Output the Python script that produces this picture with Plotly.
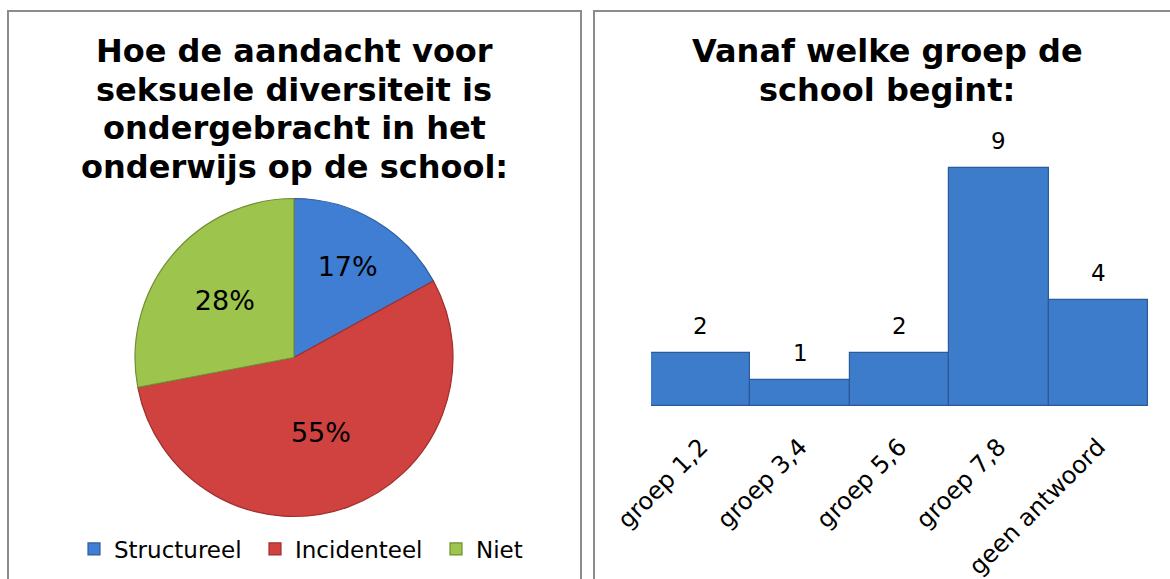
import plotly.graph_objects as go

W, H = 1170, 579

# ---- data ----
pie_labels = ["Structureel", "Incidenteel", "Niet"]
pie_values = [17, 55, 28]
pie_colors = ["#3F7ED2", "#CF423F", "#9DC44D"]
pie_edge = ["#2D5E9E", "#9E2F2C", "#6F8F33"]

bar_categories = ["groep 1,2", "groep 3,4", "groep 5,6", "groep 7,8", "geen antwoord"]
bar_values = [2, 1, 2, 9, 4]

left_title_lines = ["Hoe de aandacht voor", "seksuele diversiteit is",
                    "ondergebracht in het", "onderwijs op de school:"]
right_title_lines = ["Vanaf welke groep de", "school begint:"]

FONT = "DejaVu Sans"
TITLE_SIZE = 32

def px(x):
    return x / W

def py(y):
    return (H - y) / H

fig = go.Figure()

fig.add_trace(go.Pie(
    labels=pie_labels,
    values=pie_values,
    sort=False,
    direction="clockwise",
    rotation=0,
    marker=dict(colors=pie_colors, line=dict(color=pie_edge, width=1.2)),
    texttemplate="%{value}%",
    textposition="inside",
    insidetextorientation="horizontal",
    textfont=dict(family=FONT, size=27, color="black"),
    domain=dict(x=[px(135), px(453)], y=[py(517), py(198)]),
    showlegend=True,
    hoverinfo="label+value",
))

fig.add_trace(go.Bar(
    x=bar_categories,
    y=bar_values,
    marker=dict(color="#3D7BCB", line=dict(color="#2A5A98", width=1.2)),
    xaxis="x", yaxis="y",
    showlegend=False,
    hoverinfo="x+y",
))

annotations = []
LINE_STEP = 38.5
for i, line in enumerate(left_title_lines):
    top = 63 + i * LINE_STEP - (TITLE_SIZE + 1)
    annotations.append(dict(text=line, x=px(294), y=py(top), xref="paper", yref="paper",
                            xanchor="center", yanchor="top", showarrow=False,
                            font=dict(family=FONT, size=TITLE_SIZE, color="black", weight="bold")))
for i, line in enumerate(right_title_lines):
    top = 63 + i * LINE_STEP - (TITLE_SIZE + 1)
    annotations.append(dict(text=line, x=px(887), y=py(top), xref="paper", yref="paper",
                            xanchor="center", yanchor="top", showarrow=False,
                            font=dict(family=FONT, size=TITLE_SIZE, color="black", weight="bold")))
for c, v in zip(bar_categories, bar_values):
    annotations.append(dict(text=str(v), x=c, y=v, xref="x", yref="y",
                            xanchor="center", yanchor="bottom", yshift=12,
                            showarrow=False,
                            font=dict(family=FONT, size=23, color="black")))

shapes = [
    dict(type="rect", xref="paper", yref="paper",
         x0=px(8), x1=px(581), y0=-0.05, y1=py(11),
         line=dict(color="#8C8C8C", width=2), fillcolor="rgba(0,0,0,0)", layer="below"),
    dict(type="rect", xref="paper", yref="paper",
         x0=px(594), x1=1.05, y0=-0.05, y1=py(11),
         line=dict(color="#8C8C8C", width=2), fillcolor="rgba(0,0,0,0)", layer="below"),
]

fig.update_layout(
    width=W, height=H,
    margin=dict(l=0, r=0, t=0, b=0, autoexpand=False),
    paper_bgcolor="white",
    plot_bgcolor="rgba(0,0,0,0)",
    font=dict(family=FONT, size=22, color="black"),
    bargap=0,
    xaxis=dict(domain=[px(651), px(1148)], tickangle=-45, showline=False,
               showgrid=False, zeroline=False, ticks="", automargin=False,
               ticklabelstandoff=21,
               tickfont=dict(family=FONT, size=24, color="black")),
    yaxis=dict(domain=[py(406), py(141)], range=[0, 10], visible=False,
               showgrid=False, zeroline=False, automargin=False),
    legend=dict(orientation="h", x=px(74), y=py(549), xanchor="left",
                yanchor="middle", font=dict(family=FONT, size=23, color="black"),
                entrywidth=136, entrywidthmode="pixels",
                bgcolor="rgba(0,0,0,0)", itemclick=False, itemdoubleclick=False),
    annotations=annotations,
    shapes=shapes,
)

fig.write_html("out.html", config={"displayModeBar": False},
               post_script="document.body.style.margin='0';")
